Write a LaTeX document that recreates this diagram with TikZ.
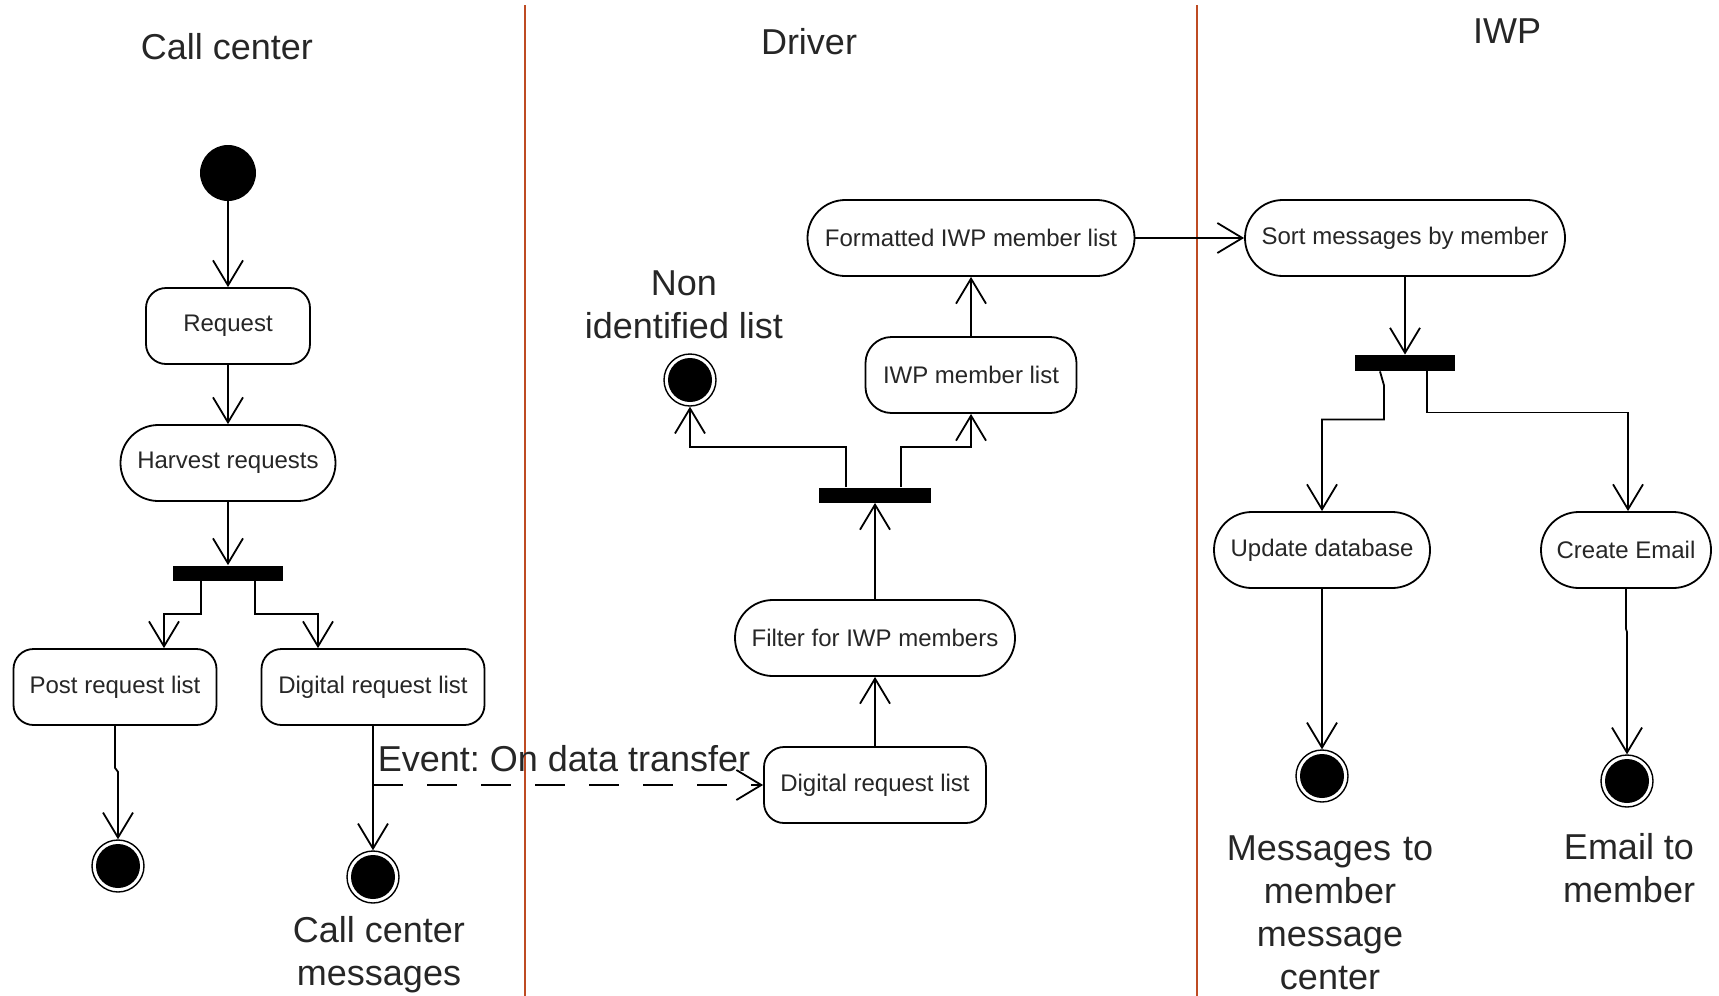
\documentclass[tikz,border=0pt]{standalone}
\usepackage{fontspec}
\setmainfont{Liberation Sans}
\usetikzlibrary{arrows.meta}
\frenchspacing

\definecolor{laneline}{RGB}{190,75,35}

\tikzset{
  act/.style={draw, line width=0.9pt, inner sep=0pt, minimum height=38pt,
    font=\fontsize{12}{14}\selectfont, text=black!85},
  boxy/.style={act, rounded corners=10pt},
  pill/.style={act, rounded corners=18.9pt},
  bar/.style={fill=black, inner sep=0pt, minimum height=7.5pt},
  startnode/.style={circle, fill=black, inner sep=0pt, minimum size=28pt},
  endnode/.style={circle, draw, line width=0.7pt, inner sep=0pt, minimum size=26pt,
    path picture={\fill[black] (path picture bounding box.center) circle (11pt);}},
  flow/.style={draw, line width=0.9pt, -{Straight Barb[length=12.5pt,width=15pt]}},
  event/.style={flow, dash pattern=on 15pt off 12pt},
  biglabel/.style={align=center, inner sep=0pt,
    font=\fontsize{18}{21.5}\selectfont, text=black!85},
  lane/.style={draw=laneline, line width=1pt}
}

\begin{document}
\begin{tikzpicture}[x=0.5pt, y=-0.5pt]
\useasboundingbox (0,0) rectangle (1719,996);

% swimlane separators
\draw[lane] (525,5) -- (525,996);
\draw[lane] (1197,5) -- (1197,996);

% lane titles
\node[biglabel] (tcall) at (227,47) {Call center};
\node[biglabel] (tdrv) at (809,42) {Driver};
\node[biglabel] (tiwp) at (1507,31) {IWP};

% ---- Call center lane ----
\node[startnode] (start) at (228,173) {};
\node[boxy, minimum width=82pt] (req) at (228,326) {Request};
\node[pill, minimum width=107.5pt] (harv) at (228,463) {Harvest requests};
\node[bar, minimum width=55pt] (bar1) at (228,573) {};
\node[boxy, minimum width=101.5pt] (post) at (115,687) {Post request list};
\node[boxy, minimum width=111.5pt] (dig1) at (373,687) {Digital request list};
\node[endnode] (end1) at (118,866) {};
\node[endnode] (end2) at (373,877) {};
\node[biglabel] (lblcc) at (379,955) {Call center\\messages};

\draw[flow] (start) -- (req);
\draw[flow] (req) -- (harv);
\draw[flow] (harv) -- (bar1);
\draw[flow] ([xshift=-13.5pt]bar1.south) -- ++(0,33) -| ([xshift=24.5pt]post.north);
\draw[flow] ([xshift=13.5pt]bar1.south) -- ++(0,33) -| ([xshift=-27.5pt]dig1.north);
\draw[flow] (post.south) -- ++(0,42) -- ++(3,4) -- (end1.north);
\draw[flow] (dig1.south) -- (end2.north);

% ---- Driver lane ----
\node[boxy, minimum width=111pt] (dig2) at (875,785) {Digital request list};
\node[pill, minimum width=140pt] (filt) at (875,638) {Filter for IWP members};
\node[bar, minimum width=56pt] (bar2) at (875,495) {};
\node[endnode] (end3) at (690,380) {};
\node[biglabel] (lblnon) at (684,305) {Non\\identified list};
\node[boxy, rounded corners=13pt, minimum width=105.5pt] (iwp) at (971,375) {IWP member list};
\node[pill, minimum width=163.5pt] (fmt) at (971,238) {Formatted IWP member list};

\draw[event] (dig1.south |- dig2.west) -- (dig2.west)
  node[pos=0, anchor=base west, xshift=2pt, yshift=7pt, biglabel] (lblev) {Event: On data transfer};
\draw[flow] (dig2) -- (filt);
\draw[flow] (filt) -- (bar2);
\draw[flow] ([xshift=-14.5pt]bar2.north) -- ++(0,-40) -| (end3.south);
\draw[flow] ([xshift=13pt]bar2.north) -- ++(0,-40) -| (iwp.south);
\draw[flow] (iwp) -- (fmt);

% ---- IWP lane ----
\node[pill, minimum width=160pt] (sort) at (1405,238) {Sort messages by member};
\node[bar, minimum width=50pt, minimum height=8pt] (bar3) at (1405,363) {};
\node[pill, minimum width=108pt] (upd) at (1322,550) {Update database};
\node[pill, minimum width=85pt] (crt) at (1626,550) {Create Email};
\node[endnode] (end4) at (1322,776) {};
\node[endnode] (end5) at (1627,781) {};
\node[biglabel, text width=130pt] (lblmsg) at (1330,913) {Messages to\\member\\message\\center};
\node[biglabel] (lblmail) at (1629,868) {Email to\\member};

\draw[flow] (fmt) -- (sort);
\draw[flow] (sort) -- (bar3);
\draw[flow] ([xshift=-12.5pt]bar3.south) -- ++(4,14) -- ++(0,34) -| (upd.north);
\draw[flow] ([xshift=11pt]bar3.south) -- ++(0,41) -| ([xshift=1pt]crt.north);
\draw[flow] (upd) -- (end4);
\draw[flow] (crt.south) -- ++(0,40) -- ++(1,3) -- (end5.north);

\end{tikzpicture}
\end{document}
